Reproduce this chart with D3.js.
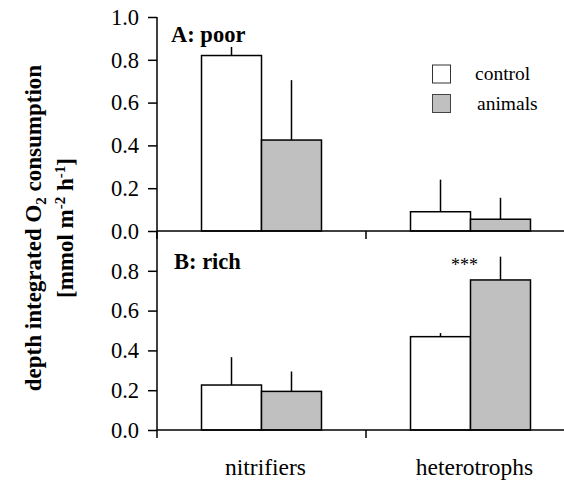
<!DOCTYPE html>
<html>
<head>
<meta charset="utf-8">
<script src="https://cdn.jsdelivr.net/npm/d3@7"></script>
<style>
  html, body { margin: 0; padding: 0; background: #fff; }
  svg { display: block; overflow: hidden; }
</style>
</head>
<body>
<svg id="chart" width="564" height="480"></svg>
<script>
// ---- data ----
const categories = ["nitrifiers", "heterotrophs"];
const seriesNames = ["control", "animals"];
const seriesColors = ["#ffffff", "#c0c0c0"];
// panel A: poor
const poorControl = [0.82, 0.09];
const poorControlErr = [0.04, 0.15];
const poorAnimals = [0.425, 0.055];
const poorAnimalsErr = [0.28, 0.10];
// panel B: rich
const richControl = [0.226, 0.469];
const richControlErr = [0.14, 0.018];
const richAnimals = [0.194, 0.754];
const richAnimalsErr = [0.10, 0.117];
const yTicksA = [0, 0.2, 0.4, 0.6, 0.8, 1.0];
const yTicksB = [0, 0.2, 0.4, 0.6, 0.8];
const panelTitles = ["A: poor", "B: rich"];
const significance = ["", "***"]; // panel B, per category

const FONT = "Liberation Serif";

const svg = d3.select("#chart");

const x = d3.scaleBand().domain(categories).range([157, 575]).padding(0);
const xs = d3.scaleBand().domain(seriesNames).range([0, x.bandwidth()])
  .paddingInner(0).paddingOuter(0.742);

const yA = d3.scaleLinear().domain([0, 1]).range([231, 17]);
const yB = d3.scaleLinear().domain([0, 1]).range([430, 231]);

const panels = [
  { y: yA, ticks: yTicksA, title: panelTitles[0], vals: [poorControl, poorAnimals], errs: [poorControlErr, poorAnimalsErr], sig: ["", ""], titleX: 171, titleY: 42 },
  { y: yB, ticks: yTicksB, title: panelTitles[1], vals: [richControl, richAnimals], errs: [richControlErr, richAnimalsErr], sig: significance, titleX: 174, titleY: 269 }
];

function txt(sel) { return sel.attr("font-family", FONT).attr("fill", "#000"); }

panels.forEach(p => {
  const g = svg.append("g");
  p.vals.forEach((vals, si) => {
    categories.forEach((c, ci) => {
      const bx = x(c) + xs(seriesNames[si]);
      const v = vals[ci];
      const e = p.errs[si][ci];
      g.append("line")
        .attr("x1", bx + xs.bandwidth() / 2).attr("x2", bx + xs.bandwidth() / 2)
        .attr("y1", p.y(v)).attr("y2", p.y(v + e))
        .attr("stroke", "#000").attr("stroke-width", 1.5);
      g.append("rect")
        .attr("x", bx).attr("width", xs.bandwidth())
        .attr("y", p.y(v)).attr("height", p.y(0) - p.y(v))
        .attr("fill", seriesColors[si]).attr("stroke", "#000").attr("stroke-width", 1.5);
    });
  });
  categories.forEach((c, ci) => {
    if (p.sig[ci]) {
      txt(g.append("text"))
        .attr("x", x(c) + x.bandwidth() / 2 - 6)
        .attr("y", p.y(0.754 + 0.117) + 14)
        .attr("text-anchor", "middle")
        .attr("font-size", 18)
        .text(p.sig[ci]);
    }
  });
  const ax = g.append("g").attr("transform", "translate(157,0)")
    .call(d3.axisLeft(p.y).tickValues(p.ticks).tickFormat(d3.format(".1f")).tickSize(9).tickPadding(9));
  ax.attr("font-family", FONT);
  ax.select(".domain").remove();
  ax.selectAll(".tick line").attr("stroke", "#000").attr("stroke-width", 1.5);
  txt(ax.selectAll(".tick text")).attr("font-size", 22.5);
  [157, 366, 575].forEach(b => {
    g.append("line").attr("x1", b).attr("x2", b)
      .attr("y1", p.y(0)).attr("y2", p.y(0) + 8)
      .attr("stroke", "#000").attr("stroke-width", 1.5);
  });
  g.append("line").attr("x1", 157).attr("x2", 575)
    .attr("y1", p.y(0)).attr("y2", p.y(0))
    .attr("stroke", "#000").attr("stroke-width", 1.5);
  txt(g.append("text")).attr("x", p.titleX).attr("y", p.titleY)
    .attr("font-size", 22.5).attr("font-weight", "bold")
    .text(p.title);
});

svg.append("line").attr("x1", 157).attr("x2", 157)
  .attr("y1", yA(1)).attr("y2", yB(0))
  .attr("stroke", "#000").attr("stroke-width", 1.5);

categories.forEach(c => {
  txt(svg.append("text"))
    .attr("x", x(c) + x.bandwidth() / 2 + 4)
    .attr("y", 475)
    .attr("text-anchor", "middle")
    .attr("font-size", 23.5)
    .text(c);
});

const leg = svg.append("g");
seriesNames.forEach((s, i) => {
  leg.append("rect")
    .attr("x", 432.5).attr("y", 65 + i * 29.5)
    .attr("width", 18).attr("height", 18)
    .attr("fill", seriesColors[i]).attr("stroke", i === 0 ? "#333" : "#444").attr("stroke-width", 1);
  txt(leg.append("text"))
    .attr("x", 475 + i * 2).attr("y", 80 + i * 29.5)
    .attr("font-size", 19.5)
    .text(s);
});

const yt = txt(svg.append("text"))
  .attr("transform", "translate(41,228) rotate(-90)")
  .attr("text-anchor", "middle")
  .attr("font-size", 23).attr("font-weight", "bold");
yt.append("tspan").text("depth integrated O");
yt.append("tspan").attr("font-size", 15).attr("dy", 5).text("2");
yt.append("tspan").attr("dy", -5).text(" consumption");

const yt2 = txt(svg.append("text"))
  .attr("transform", "translate(73,228) rotate(-90)")
  .attr("text-anchor", "middle")
  .attr("font-size", 23).attr("font-weight", "bold");
yt2.append("tspan").text("[mmol m");
yt2.append("tspan").attr("font-size", 15).attr("dy", -8).text("-2");
yt2.append("tspan").attr("dy", 8).text(" h");
yt2.append("tspan").attr("font-size", 15).attr("dy", -8).text("-1");
yt2.append("tspan").attr("dy", 8).text("]");
</script>
</body>
</html>
